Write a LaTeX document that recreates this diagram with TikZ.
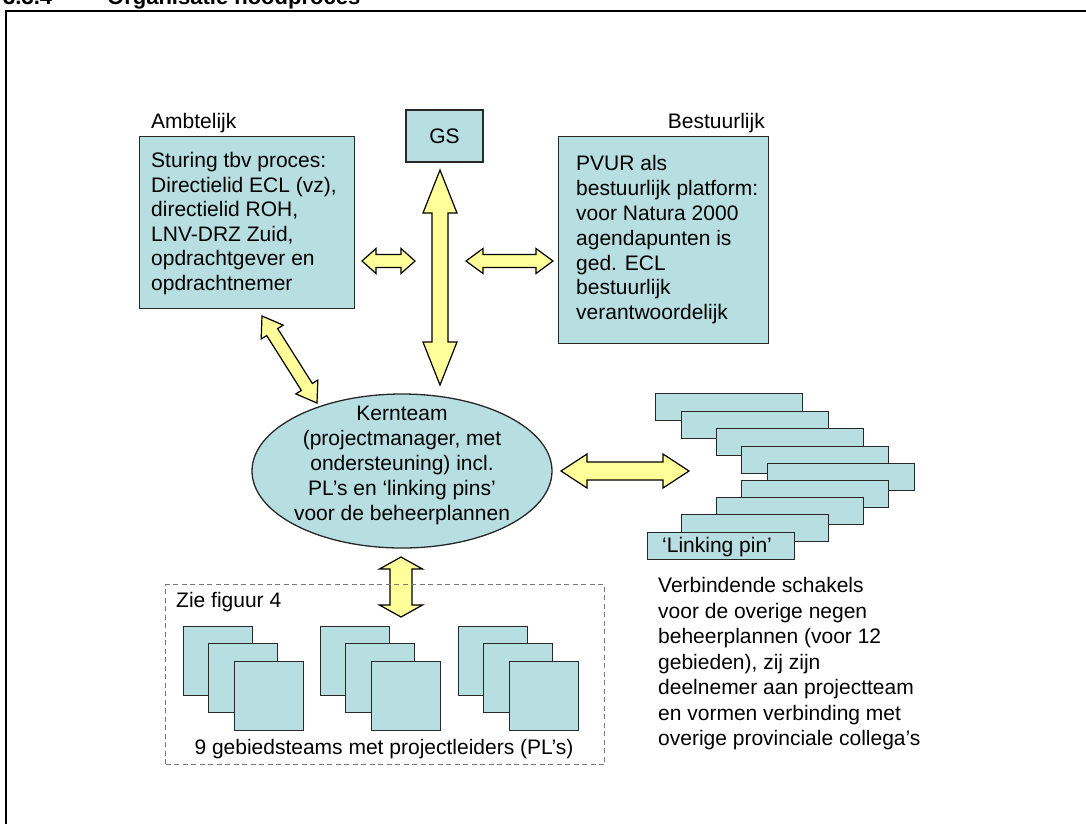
\documentclass[tikz,border=0pt]{standalone}
\usepackage{fontspec}
\setmainfont{Liberation Sans}
\usetikzlibrary{calc,shapes.geometric}
\definecolor{boxfill}{RGB}{183,222,225}
\definecolor{arrfill}{RGB}{255,255,153}
\definecolor{boxline}{RGB}{40,40,40}
\definecolor{dashgray}{RGB}{120,120,120}
\tikzset{
  bx/.style={draw=boxline, fill=boxfill, line width=1.3pt, inner sep=0pt},
  txt/.style={font=\fontsize{21}{24.5}\selectfont, inner sep=0pt, align=left},
  blockarrow/.style={draw=black, fill=arrfill, line width=1.2pt, line join=miter},
  zie/.style={draw=dashgray, line width=1.3pt, dash pattern=on 5pt off 3.5pt, inner sep=0pt},
}
\newcommand{\blockarr}[5]{%
  \coordinate (ha) at ($(#1)!#3!(#2)$);
  \coordinate (hb) at ($(#2)!#3!(#1)$);
  \draw[blockarrow] (#1) -- ($(ha)!#4!90:(#2)$) -- ($(ha)!#5!90:(#2)$)
    -- ($(hb)!#5!-90:(#1)$) -- ($(hb)!#4!-90:(#1)$) -- (#2)
    -- ($(hb)!#4!90:(#1)$) -- ($(hb)!#5!90:(#1)$)
    -- ($(ha)!#5!-90:(#2)$) -- ($(ha)!#4!-90:(#2)$) -- cycle;
}
\begin{document}
\begin{tikzpicture}[x=1pt,y=-1pt]
\useasboundingbox (0,0) rectangle (1086,823);
\fill[white] (0,0) rectangle (1086,823);
% title (clipped at the top)
\node[font=\bfseries\fontsize{22}{26}\selectfont, anchor=base west, inner sep=0pt] (num) at (3,4) {3.3.4};
\node[font=\bfseries\fontsize{22}{26}\selectfont, anchor=base west, inner sep=0pt] (title) at (107,4) {Organisatie noodproces};
% frame
\draw[line width=2.5pt] (1100,11) -- (6,11) -- (6,840);

% labels
\node[txt, anchor=base west] (ambl) at (151,128) {Ambtelijk};
\node[txt, anchor=base east] (besl) at (765,128) {Bestuurlijk};

% Ambtelijk box
\node[bx, minimum width=215pt, minimum height=172pt, anchor=north west] (amb) at (139,136) {};
\node[txt, anchor=north west] (ambtxt) at (151,152.5) {Sturing tbv proces:\\Directielid ECL (vz),\\directielid ROH,\\LNV-DRZ Zuid,\\opdrachtgever en\\opdrachtnemer};

% GS
\node[bx, minimum width=77pt, minimum height=52pt, font=\fontsize{21}{24.5}\selectfont] (gs) at (444.5,136) {GS};

% Bestuurlijk box
\node[bx, minimum width=210pt, minimum height=207pt, anchor=north west] (bes) at (558,136) {};
\node[txt, anchor=north west, font=\fontsize{21}{24.8}\selectfont] (bestxt) at (576,155.5) {PVUR als\\bestuurlijk platform:\\voor Natura 2000\\agendapunten is\\ged. ECL\\bestuurlijk\\verantwoordelijk};

% Kernteam
\node[bx, ellipse, minimum width=300pt, minimum height=154pt] (kern) at (402,471) {};
\node[txt, align=center, anchor=north, font=\fontsize{21}{25}\selectfont] (kerntxt) at (402,405.5) {Kernteam\\(projectmanager, met\\ondersteuning) incl.\\PL’s en ‘linking pins’\\voor de beheerplannen};

% linking pin bars
\foreach \i/\x/\y in {1/655/393, 2/681/411, 3/716/428, 4/741/446, 5/767/463, 6/741/480, 7/716/497, 8/681/514}{
  \node[bx, minimum width=147pt, minimum height=27pt, anchor=north west] (bar\i) at (\x,\y) {};
}
\node[bx, minimum width=147pt, minimum height=27pt, anchor=north west] (bar9) at (647,532) {};
\node[txt, anchor=base west] (lp) at (662,552.5) {‘Linking pin’};

% arrows
\coordinate (v1) at (440,170); \coordinate (v2) at (440,385);
\blockarr{v1}{v2}{43pt}{17pt}{8pt}
\coordinate (h1a) at (362,261); \coordinate (h1b) at (415,261);
\blockarr{h1a}{h1b}{14pt}{12.5pt}{6.5pt}
\coordinate (h2a) at (466,261); \coordinate (h2b) at (553,261);
\blockarr{h2a}{h2b}{17pt}{12.5pt}{6.5pt}
\coordinate (d1) at (262,316); \coordinate (d2) at (317,403);
\blockarr{d1}{d2}{19pt}{13pt}{6.5pt}
\coordinate (k1) at (561,471); \coordinate (k2) at (689,471);
\blockarr{k1}{k2}{26pt}{17pt}{9pt}
\coordinate (z1) at (401,557); \coordinate (z2) at (401,617);
\blockarr{z1}{z2}{12pt}{21.5pt}{11pt}

% dashed box with teams
\node[zie, minimum width=439pt, minimum height=180pt, anchor=north west] (ziebox) at (165,584) {};
\node[txt, anchor=base west] (zietxt) at (176,607.5) {Zie figuur 4};
\foreach \g/\gx in {1/0, 2/137, 3/275}{
  \node[bx, minimum width=69pt, minimum height=69pt, anchor=north west] (sq\g a) at (183+\gx,626) {};
  \node[bx, minimum width=69pt, minimum height=69pt, anchor=north west] (sq\g b) at (208+\gx,643) {};
  \node[bx, minimum width=69pt, minimum height=69pt, anchor=north west] (sq\g c) at (234+\gx,661) {};
}
\node[txt, anchor=base] (teams) at (384,754.5) {9 gebiedsteams met projectleiders (PL’s)};

% explanatory text
\node[txt, anchor=north west, font=\fontsize{21}{25.5}\selectfont] (verb) at (658,577.5) {Verbindende schakels\\voor de overige negen\\beheerplannen (voor 12\\gebieden), zij zijn\\deelnemer aan projectteam\\en vormen verbinding met\\overige provinciale collega’s};
\end{tikzpicture}
\end{document}
